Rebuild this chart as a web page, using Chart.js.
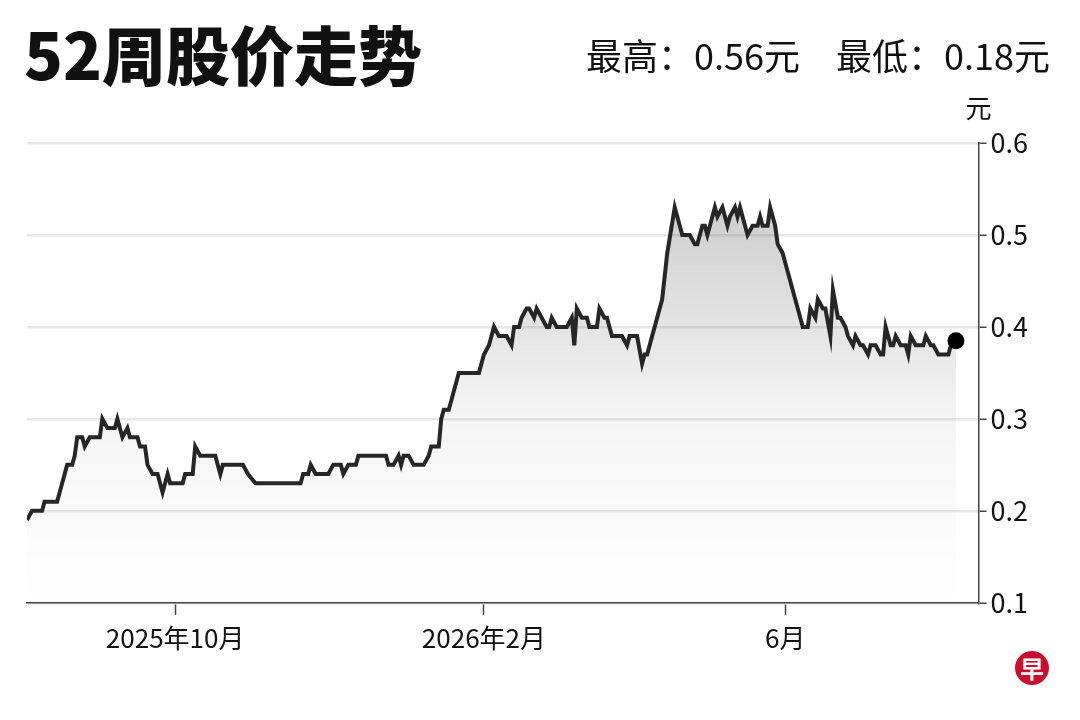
<!DOCTYPE html>
<html lang="zh">
<head>
<meta charset="utf-8">
<script src="https://cdn.jsdelivr.net/npm/chart.js@4.4.1/dist/chart.umd.min.js"></script>
<style>
  html, body { margin: 0; padding: 0; background: #fff; }
  #wrap { position: relative; width: 1080px; height: 720px; font-family: "Noto Sans CJK SC", sans-serif; color: #111; }
  #title { position: absolute; left: 24px; top: 20px; font-size: 64px; line-height: 1; font-weight: 900; }
  #hilo { position: absolute; right: 30px; top: 36px; font-size: 36px; line-height: 1; }
  #hilo span + span { margin-left: 36px; }
  #logo { position: absolute; left: 1015px; top: 651px; width: 34px; height: 34px; border-radius: 50%;
          background: #c8102e; color: #fff; font-size: 24px; font-weight: 700; text-align: center; line-height: 34px; }
  #chart-box { position: absolute; left: 0; top: 0; width: 1080px; height: 720px; }
</style>
</head>
<body>
<div id="wrap">
  <div id="chart-box"><canvas id="chart-price"></canvas></div>
  <div id="title">52周股价走势</div>
  <div id="hilo"><span>最高：0.56元</span><span>最低：0.18元</span></div>
  <div id="logo">早</div>
</div>
<script>
// Jours depuis le 2025-08-01 et cours de clôture (元)
const days = [
  2, 4, 8, 9, 14, 15, 17, 18, 20, 21,
  22, 24, 25, 27, 31, 32, 34, 37, 38, 40,
  42, 43, 46, 47, 49, 50, 52, 54, 56, 58,
  59, 64, 65, 68, 69, 71, 77, 79, 80, 88,
  90, 93, 111, 112, 114, 115, 117, 122, 124, 127,
  128, 130, 133, 134, 145, 146, 148, 150, 151, 152,
  154, 156, 160, 162, 163, 166, 167, 168, 170, 172,
  174, 182, 184, 186, 188, 190, 193, 195, 196, 198,
  199, 201, 202, 204, 205, 207, 209, 210, 211, 213,
  217, 219, 220, 221, 223, 225, 226, 229, 230, 232,
  233, 235, 239, 241, 242, 245, 247, 248, 249, 251,
  253, 255, 257, 260, 261, 263, 266, 268, 269, 271,
  272, 273, 275, 276, 277, 279, 281, 282, 284, 285,
  286, 288, 289, 291, 293, 294, 295, 297, 298, 300,
  301, 303, 304, 305, 307, 308, 309, 311, 313, 314,
  316, 317, 319, 320, 322, 323, 325, 326, 328, 329,
  331, 332, 334, 335, 337, 338, 340, 342, 343, 344,
  346, 347, 348, 350, 352, 353, 354, 356, 359, 360,
  362, 363, 365, 369, 370, 372,
];
const prices = [
  0.19, 0.20, 0.20, 0.21, 0.21, 0.22, 0.24, 0.25, 0.25, 0.26,
  0.28, 0.28, 0.27, 0.28, 0.28, 0.30, 0.29, 0.29, 0.30, 0.28,
  0.29, 0.28, 0.28, 0.27, 0.27, 0.25, 0.24, 0.24, 0.22, 0.24,
  0.23, 0.23, 0.24, 0.24, 0.27, 0.26, 0.26, 0.24, 0.25, 0.25,
  0.24, 0.23, 0.23, 0.24, 0.24, 0.25, 0.24, 0.24, 0.25, 0.25,
  0.24, 0.25, 0.25, 0.26, 0.26, 0.25, 0.25, 0.26, 0.25, 0.26,
  0.26, 0.25, 0.25, 0.26, 0.27, 0.27, 0.30, 0.31, 0.31, 0.33,
  0.35, 0.35, 0.37, 0.38, 0.40, 0.39, 0.39, 0.38, 0.40, 0.40,
  0.41, 0.42, 0.42, 0.41, 0.42, 0.41, 0.40, 0.40, 0.41, 0.40,
  0.40, 0.41, 0.38, 0.42, 0.41, 0.41, 0.40, 0.40, 0.42, 0.41,
  0.41, 0.39, 0.39, 0.38, 0.39, 0.39, 0.36, 0.37, 0.37, 0.39,
  0.41, 0.43, 0.48, 0.53, 0.52, 0.50, 0.50, 0.49, 0.49, 0.51,
  0.51, 0.50, 0.52, 0.53, 0.52, 0.53, 0.51, 0.52, 0.53, 0.52,
  0.53, 0.51, 0.50, 0.51, 0.51, 0.52, 0.51, 0.51, 0.53, 0.51,
  0.49, 0.48, 0.47, 0.46, 0.44, 0.43, 0.42, 0.40, 0.40, 0.42,
  0.41, 0.43, 0.42, 0.42, 0.39, 0.44, 0.41, 0.41, 0.40, 0.39,
  0.38, 0.39, 0.38, 0.38, 0.37, 0.38, 0.38, 0.37, 0.37, 0.40,
  0.38, 0.38, 0.39, 0.38, 0.38, 0.37, 0.39, 0.38, 0.38, 0.39,
  0.38, 0.38, 0.37, 0.37, 0.38, 0.385,
];

// Axe X : 1er du mois
const xTickDays   = [61, 184, 304];
const xTickLabels = ['2025年10月', '2026年2月', '6月'];
const yTicks      = [0.1, 0.2, 0.3, 0.4, 0.5, 0.6];
const unitLabel   = '元';

Chart.defaults.font.family = '"Noto Sans CJK SC", sans-serif';
Chart.defaults.color = '#111';

// Libellé d'unité au-dessus de l'axe Y
const unitPlugin = {
  id: 'unit',
  afterDraw(chart) {
    const y = chart.scales.y;
    const ctx = chart.ctx;
    ctx.save();
    ctx.font = '26px "Noto Sans CJK SC"';
    ctx.fillStyle = '#111';
    ctx.textAlign = 'center';
    ctx.textBaseline = 'middle';
    ctx.fillText(unitLabel, y.left, y.top - 35);
    ctx.restore();
  },
};

function fillGradient(c) {
  const area = c.chart.chartArea;
  if (!area) return 'rgba(0,0,0,.1)';
  const g = c.chart.ctx.createLinearGradient(0, area.top, 0, area.bottom);
  g.addColorStop(0, 'rgba(0,0,0,.24)');
  g.addColorStop(0.6, 'rgba(0,0,0,.04)');
  g.addColorStop(1, 'rgba(0,0,0,0)');
  return g;
}

const last = prices.length - 1;
new Chart(document.getElementById('chart-price'), {
  type: 'line',
  data: {
    datasets: [{
      data: days.map((d, i) => ({ x: d, y: prices[i] })),
      borderColor: '#262626',
      borderWidth: 4,
      backgroundColor: fillGradient,
      fill: 'start',
      tension: 0,
      pointRadius: c => (c.dataIndex === last ? 8.5 : 0),
      pointBackgroundColor: '#000',
      pointBorderWidth: 0,
    }],
  },
  options: {
    responsive: true,
    maintainAspectRatio: false,
    animation: false,
    layout: { padding: { left: 27, right: 48, top: 143, bottom: 58 } },
    plugins: { legend: { display: false }, tooltip: { enabled: false } },
    scales: {
      x: {
        type: 'linear',
        min: 2, max: 381,
        afterBuildTicks: s => { s.ticks = xTickDays.map(v => ({ value: v })); },
        ticks: {
          callback: (v, i) => xTickLabels[i],
          font: { size: 26 }, color: '#111', padding: 8,
          autoSkip: false, maxRotation: 0,
        },
        grid: { drawOnChartArea: false, tickLength: 12, tickColor: '#444', tickWidth: 1.5 },
        border: { color: '#444', width: 1.5 },
      },
      y: {
        position: 'right',
        min: 0.1, max: 0.6,
        afterBuildTicks: s => { s.ticks = yTicks.map(v => ({ value: v })); },
        ticks: {
          callback: v => v.toFixed(1),
          font: { size: 27 }, color: '#111', padding: 4,
        },
        grid: { color: '#e8e8e8', lineWidth: 2.5, tickLength: 8, tickColor: '#444', tickWidth: 1.5 },
        border: { color: '#444', width: 1.5 },
      },
    },
  },
  plugins: [unitPlugin],
});
</script>
</body>
</html>
